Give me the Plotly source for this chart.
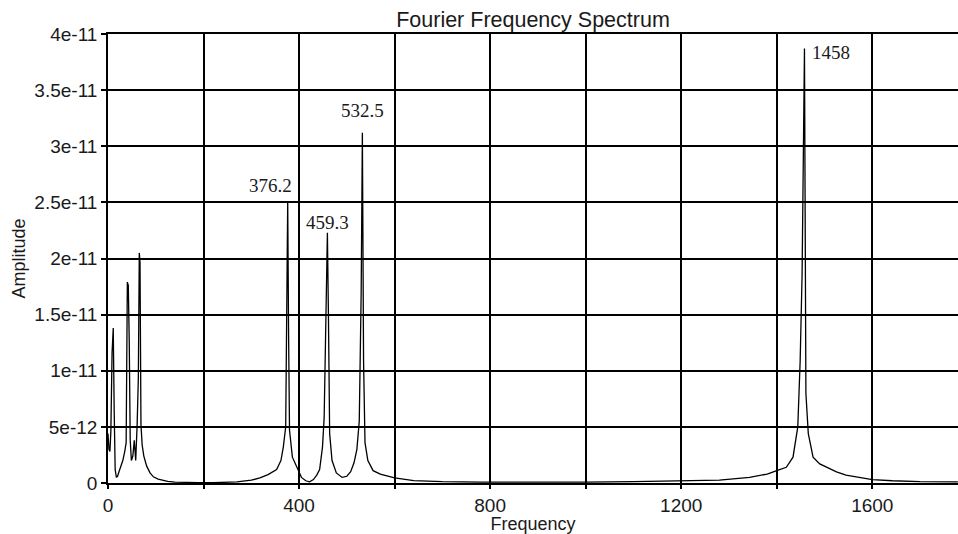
import plotly.graph_objects as go

# ---- data (frequency in Hz, amplitude in units of 1e-12) ----
freq_hz = [
    0, 2, 4, 6, 8.5, 11, 13, 15, 17.5, 20, 23, 27, 31, 35, 38, 40.5, 42.5, 44.5, 46.5, 49,
    52, 55, 58, 61, 63.5, 65.5, 67, 69, 71.5, 75, 81, 88, 95, 105, 115, 125, 140, 160, 190, 220,
    240, 270, 300, 318, 335, 353, 362, 367, 372, 374, 376.2, 378, 380, 386, 398, 405, 414, 422,
    430, 437, 443, 449, 452.5, 457, 459.3, 461.5, 464, 469, 478, 490, 500, 508, 515, 521, 526,
    530, 532.5, 535, 538, 544, 555, 570, 600, 640, 700, 780, 900, 1000, 1100, 1200, 1280, 1343,
    1380, 1400, 1420, 1434, 1444, 1449, 1453, 1458, 1461, 1466, 1476, 1490, 1504, 1525, 1545,
    1570, 1600, 1642, 1700, 1779,
]
amplitude_pico = [
    4.4, 3.0, 2.8, 4.6, 11.6, 13.8, 6.3, 1.2, 0.5, 0.6, 1.0, 1.5, 2.0, 2.8, 3.6, 17.9, 17.6, 12.5, 3.8, 2.0,
    2.4, 3.8, 2.0, 5.2, 9.3, 20.5, 19.7, 5.2, 3.4, 2.4, 1.5, 0.9, 0.55, 0.35, 0.22, 0.15, 0.08, 0.05, 0.03, 0.03,
    0.05, 0.1, 0.25, 0.45, 0.75, 1.2, 2.0, 3.2, 5.0, 19.3, 25.1, 13.4, 4.7, 2.3, 1.2, 0.5, 0.2, 0.1,
    0.3, 0.7, 1.2, 3.2, 5.8, 18.5, 22.3, 14.8, 4.4, 2.0, 0.9, 0.5, 0.6, 1.0, 1.8, 3.0, 5.5,
    17.0, 31.2, 10.9, 3.6, 2.0, 1.1, 0.8, 0.45, 0.22, 0.12, 0.07, 0.05, 0.07, 0.12, 0.18, 0.25, 0.5,
    0.8, 1.1, 1.4, 2.3, 5.0, 10.9, 18.5, 38.7, 8.0, 4.4, 2.3, 1.7, 1.4, 1.0, 0.7,
    0.5, 0.3, 0.2, 0.12, 0.1,
]
amplitude = [a * 1e-12 for a in amplitude_pico]

peak_labels = ["376.2", "459.3", "532.5", "1458"]
peak_freqs = [376.2, 459.3, 532.5, 1458]
label_shift_x = [-17, 0, 0, 27]
label_shift_y = [16, 10, 22, -4]

x_tick_vals = [0, 200, 400, 600, 800, 1000, 1200, 1400, 1600]
x_tick_text = ["0", "", "400", "", "800", "", "1200", "", "1600"]
y_tick_vals = [0, 5e-12, 1e-11, 1.5e-11, 2e-11, 2.5e-11, 3e-11, 3.5e-11, 4e-11]
y_tick_text = ["0", "5e-12", "1e-11", "1.5e-11", "2e-11", "2.5e-11", "3e-11", "3.5e-11", "4e-11"]

SANS = "Liberation Sans, Arial, sans-serif"
SERIF = "Liberation Serif, Times New Roman, serif"
INK = "#1a1a1a"

fig = go.Figure()
fig.add_trace(go.Scatter(
    x=freq_hz, y=amplitude, mode="lines",
    line=dict(color="black", width=1.3),
    hoverinfo="skip", showlegend=False,
))

annotations = []
for lab, pf, sx, sy in zip(peak_labels, peak_freqs, label_shift_x, label_shift_y):
    idx = min(range(len(freq_hz)), key=lambda i: abs(freq_hz[i] - pf))
    annotations.append(dict(
        x=freq_hz[idx], y=amplitude[idx], xref="x", yref="y",
        text=lab, showarrow=False, xanchor="center", yanchor="middle",
        xshift=sx, yshift=sy,
        font=dict(family=SERIF, size=19, color=INK),
    ))

fig.update_layout(
    width=958, height=534,
    margin=dict(l=108, r=0, t=34, b=51, autoexpand=False),
    paper_bgcolor="white", plot_bgcolor="white",
    title=dict(text="Fourier Frequency Spectrum", x=0.5, xref="paper", xanchor="center",
               y=1 - 19 / 534, yref="container", yanchor="middle", automargin=False,
               font=dict(family=SANS, size=21.5, color=INK)),
    annotations=annotations,
    xaxis=dict(
        range=[0, 1779.4], tickmode="array", tickvals=x_tick_vals, ticktext=x_tick_text,
        automargin=False,
        showgrid=True, gridcolor="black", gridwidth=1.6,
        showline=True, linecolor="black", linewidth=1.6, mirror=True,
        ticks="outside", ticklen=4, tickcolor="black", tickwidth=1.6,
        zeroline=False,
        tickfont=dict(family=SANS, size=19, color=INK),
        title=dict(text="Frequency", font=dict(family=SANS, size=18, color=INK), standoff=0),
    ),
    yaxis=dict(
        range=[0, 4e-11], tickmode="array", tickvals=y_tick_vals, ticktext=y_tick_text,
        automargin=False,
        showgrid=True, gridcolor="black", gridwidth=1.6,
        showline=True, linecolor="black", linewidth=1.6,
        ticks="outside", ticklen=5, tickcolor="black", tickwidth=1.6,
        zeroline=False,
        tickfont=dict(family=SANS, size=19, color=INK),
        title=dict(text="Amplitude", font=dict(family=SANS, size=18, color=INK), standoff=4),
    ),
)

fig.write_html(
    "out.html",
    config={"displayModeBar": False},
    post_script="document.body.style.margin='0';document.body.style.overflow='hidden';",
)
